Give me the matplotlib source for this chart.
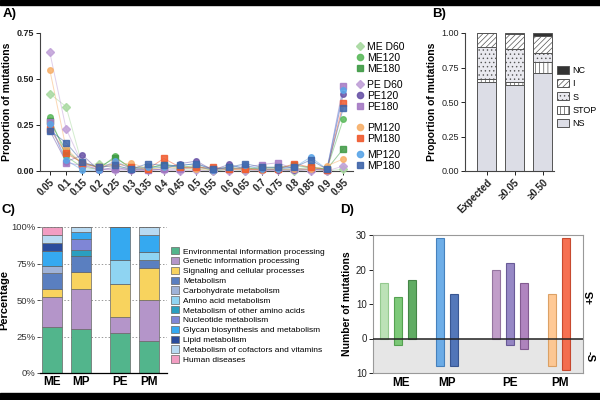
import matplotlib
matplotlib.use('Agg')
import matplotlib.pyplot as plt
from matplotlib.lines import Line2D
from matplotlib.patches import Patch, Rectangle

plt.rcParams['font.family'] = ['Liberation Sans', 'DejaVu Sans']
plt.rcParams['hatch.linewidth'] = 0.5

# -------------------------
# Panel A data
# -------------------------
freq_bins = [0.05, 0.1, 0.15, 0.2, 0.25, 0.3, 0.35, 0.4, 0.45, 0.5,
             0.55, 0.6, 0.65, 0.7, 0.75, 0.8, 0.85, 0.9, 0.95]
freq_labels = ['0.05', '0.1', '0.15', '0.2', '0.25', '0.3', '0.35', '0.4', '0.45', '0.5',
               '0.55', '0.6', '0.65', '0.7', '0.75', '0.8', '0.85', '0.9', '0.95']

me_d60 = [0.42, 0.35, 0.03, 0.04, 0.03, 0.01, 0.01, 0.02, 0.01, 0.01, 0.0, 0.01, 0.0, 0.01, 0.01, 0.0, 0.01, 0.0, 0.01]
me_120 = [0.295, 0.08, 0.02, 0.01, 0.08, 0.01, 0.01, 0.04, 0.02, 0.03, 0.0, 0.01, 0.02, 0.01, 0.01, 0.01, 0.02, 0.01, 0.28]
me_180 = [0.27, 0.11, 0.04, 0.02, 0.07, 0.02, 0.02, 0.03, 0.02, 0.02, 0.01, 0.02, 0.01, 0.02, 0.02, 0.03, 0.02, 0.01, 0.12]
pe_d60 = [0.645, 0.23, 0.035, 0.01, 0.005, 0.005, 0.005, 0.005, 0.0, 0.005, 0.0, 0.0, 0.0, 0.005, 0.005, 0.005, 0.0, 0.0, 0.027]
pe_120 = [0.22, 0.05, 0.087, 0.005, 0.02, 0.005, 0.005, 0.01, 0.04, 0.054, 0.005, 0.036, 0.01, 0.005, 0.005, 0.005, 0.01, 0.005, 0.418]
pe_180 = [0.265, 0.045, 0.03, 0.01, 0.01, 0.01, 0.005, 0.01, 0.01, 0.02, 0.01, 0.01, 0.02, 0.035, 0.045, 0.01, 0.01, 0.005, 0.462]
pm_120 = [0.55, 0.123, 0.04, 0.02, 0.03, 0.045, 0.01, 0.02, 0.02, 0.01, 0.01, 0.01, 0.01, 0.005, 0.01, 0.01, 0.01, 0.028, 0.065]
pm_180 = [0.23, 0.096, 0.045, 0.02, 0.042, 0.02, 0.01, 0.068, 0.02, 0.02, 0.02, 0.01, 0.01, 0.01, 0.01, 0.04, 0.02, 0.005, 0.368]
mp_120 = [0.255, 0.06, 0.005, 0.005, 0.056, 0.01, 0.02, 0.02, 0.03, 0.04, 0.005, 0.02, 0.03, 0.01, 0.01, 0.02, 0.075, 0.01, 0.44]
mp_180 = [0.22, 0.154, 0.05, 0.02, 0.03, 0.01, 0.04, 0.03, 0.03, 0.04, 0.01, 0.02, 0.04, 0.02, 0.02, 0.02, 0.06, 0.01, 0.342]

series_a = [
    ('ME D60', me_d60, '#a8d9a0', 'D'),
    ('ME120', me_120, '#5cba5c', 'o'),
    ('ME180', me_180, '#3f9a45', 's'),
    ('PE D60', pe_d60, '#c0a0d8', 'D'),
    ('PE120', pe_120, '#6b55a8', 'o'),
    ('PE180', pe_180, '#a57ac4', 's'),
    ('PM120', pm_120, '#f7b06a', 'o'),
    ('PM180', pm_180, '#f05a2e', 's'),
    ('MP120', mp_120, '#5aa5e8', 'o'),
    ('MP180', mp_180, '#3f65aa', 's'),
]

# -------------------------
# Panel B data
# -------------------------
b_groups = ['Expected', '≥0.05', '≥0.50']
b_ns = [0.645, 0.62, 0.71]
b_stop = [0.02, 0.023, 0.077]
b_s = [0.234, 0.243, 0.07]
b_i = [0.101, 0.104, 0.121]
b_nc = [0.0, 0.01, 0.022]

# -------------------------
# Panel C data
# -------------------------
c_groups = ['ME', 'MP', 'PE', 'PM']
c_pos = [0, 1, 2.35, 3.35]
c_cats = ['Environmental information processing', 'Genetic information processing',
          'Signaling and cellular processes', 'Metabolism', 'Carbohydrate metabolism',
          'Amino acid metabolism', 'Metabolism of other amino acids', 'Nucleotide metabolism',
          'Glycan biosynthesis and metabolism', 'Lipid metabolism',
          'Metabolism of cofactors and vitamins', 'Human diseases']
c_colors = ['#52b58c', '#b495c9', '#f8d35e', '#5a7fc0', '#9fb3d8', '#8fd4f2',
            '#2a9fc0', '#7f86d6', '#35a9f0', '#2a4c9c', '#b8daf2', '#f29dc2']
c_vals = {
    'ME': [31.4, 20.9, 5.0, 10.9, 5.0, 0, 0, 0, 10.4, 5.7, 5.5, 5.2],
    'MP': [30.2, 27.1, 11.6, 11.3, 0, 0, 4.3, 7.5, 4.4, 0, 3.6, 0],
    'PE': [27.3, 11.3, 22.1, 0, 0, 17.0, 0, 0, 22.3, 0, 0, 0],
    'PM': [21.6, 28.4, 21.6, 5.7, 0, 5.7, 0, 0, 11.3, 0, 5.7, 0],
}

# -------------------------
# Panel D data
# -------------------------
d_groups = ['ME', 'MP', 'PE', 'PM']
d_group_pos = [2.2, 5.5, 10.0, 13.6]
d_pos = [1, 2, 3, 5, 6, 9, 10, 11, 13, 14]
d_plus = [16, 12, 17, 29, 13, 20, 22, 16, 13, 29]
d_minus = [0, 2, 0, 8, 8, 0, 2, 3, 8, 9]
d_face = ['#b5dfb0', '#6fc46a', '#4fa352', '#5ea5e6', '#4169b3',
          '#bb93c4', '#8b7bbf', '#a878b8', '#ffc48a', '#f5603e']
d_edge = ['#8cc587', '#4a9a46', '#3a7d3c', '#3a78b8', '#2d4c8a',
          '#8c6a98', '#5f508f', '#7a5088', '#d99a5a', '#c23e22']

W, H = 600, 400


def box(l, t, r, b):
    return [l / W, 1 - b / H, (r - l) / W, (b - t) / H]


fig = plt.figure(figsize=(6, 4), dpi=100)
fig.patches.append(Rectangle((0, 1 - 5 / H), 1, 5 / H, transform=fig.transFigure, color='black'))
fig.patches.append(Rectangle((0, 0), 1, 7 / H, transform=fig.transFigure, color='black'))

# ------------------------------
# A
# ------------------------------
axA = fig.add_axes(box(40, 33, 353, 171))
for name, vals, col, mk in series_a:
    axA.plot(freq_bins, vals, color=col, lw=0.7, alpha=0.5, clip_on=False, zorder=2)
    axA.plot(freq_bins, vals, ls='none', marker=mk, ms=4 if mk != 'D' else 3.6,
             color=col, alpha=0.85, clip_on=False, zorder=3)
axA.set_xlim(0.02, 0.98)
axA.set_ylim(0, 0.75)
axA.set_yticks([0, 0.25, 0.5, 0.75])
axA.set_yticklabels(['0.00', '0.25', '0.50', '0.75'], fontsize=6.5, fontweight='bold')
axA.set_xticks(freq_bins)
axA.set_xticklabels(freq_labels, rotation=45, ha='right', rotation_mode='anchor',
                    fontsize=7, fontweight='bold')
axA.set_ylabel('Proportion of mutations', fontsize=7.5, fontweight='bold', labelpad=3)
for sp in ['top', 'right']:
    axA.spines[sp].set_visible(False)
for sp in ['left', 'bottom']:
    axA.spines[sp].set_linewidth(0.8)
    axA.spines[sp].set_color('#444')
axA.tick_params(length=3, width=0.7, pad=1.5, colors='#222')

group_tops = [41.8, 79.8, 122.8, 149.8]
group_idx = [[0, 1, 2], [3, 4, 5], [6, 7], [8, 9]]
for top, idx in zip(group_tops, group_idx):
    handles = [Line2D([], [], ls='none', marker=series_a[i][3], color=series_a[i][2],
                      alpha=0.9, ms=4.5 if series_a[i][3] != 'D' else 4) for i in idx]
    labels = [series_a[i][0] for i in idx]
    fig.legend(handles, labels, loc='upper left', bbox_to_anchor=(356 / W, 1 - top / H),
               frameon=False, fontsize=7.5, labelspacing=0.1, handlelength=0.8,
               handletextpad=0.3, borderpad=0, borderaxespad=0)

# ------------------------------
# B
# ------------------------------
axB = fig.add_axes(box(465, 33, 554, 171))
xb = [0, 1, 2]
bw = 0.68
bottom = [0, 0, 0]
b_layers = [('NS', b_ns, '#dcdde6', ''), ('STOP', b_stop, 'white', '||||'),
            ('S', b_s, '#e9e9ef', '....'), ('I', b_i, 'white', '//////'),
            ('NC', b_nc, '#333333', '')]
b_handles = []
for name, vals, fc, hatch in b_layers:
    axB.bar(xb, vals, bw, bottom=bottom, color=fc, edgecolor='#555', lw=0.7, hatch=hatch)
    bottom = [a + b for a, b in zip(bottom, vals)]
    b_handles.append(Patch(facecolor=fc, edgecolor='#555', lw=0.7, hatch=hatch, label=name))
axB.set_xlim(-0.77, 2.4)
axB.set_ylim(0, 1.0)
axB.set_yticks([0, 0.25, 0.5, 0.75, 1.0])
axB.set_yticklabels(['0.00', '0.25', '0.50', '0.75', '1.00'], fontsize=6.5)
axB.set_xticks(xb)
axB.set_xticklabels(b_groups, rotation=45, ha='right', rotation_mode='anchor',
                    fontsize=7, fontweight='bold')
axB.set_ylabel('Proportion of mutations', fontsize=7.5, fontweight='bold', labelpad=3)
for sp in ['top', 'right']:
    axB.spines[sp].set_visible(False)
for sp in ['left', 'bottom']:
    axB.spines[sp].set_linewidth(0.8)
    axB.spines[sp].set_color('#444')
axB.tick_params(length=3, width=0.7, pad=1.5, colors='#222')
fig.legend(b_handles[::-1], [h.get_label() for h in b_handles[::-1]], loc='upper left',
           bbox_to_anchor=(557 / W, 1 - 66 / H), frameon=False, fontsize=6.5,
           labelspacing=0.45, handlelength=1.3, handleheight=1.0, handletextpad=0.4,
           borderpad=0, borderaxespad=0)

# ------------------------------
# C
# ------------------------------
axC = fig.add_axes(box(40, 227, 167, 373))
cb = [0, 0, 0, 0]
for k, cat in enumerate(c_cats):
    vals = [c_vals[g][k] for g in c_groups]
    axC.bar(c_pos, vals, 0.7, bottom=cb, color=c_colors[k], edgecolor='#666',
            lw=0.5, label=cat, zorder=2)
    cb = [a + b for a, b in zip(cb, vals)]
axC.set_xlim(-0.41, 3.97)
axC.set_ylim(0, 100)
axC.set_yticks([0, 25, 50, 75, 100])
axC.set_yticklabels(['0%', '25%', '50%', '75%', '100%'], fontsize=6.8)
axC.set_xticks(c_pos)
axC.set_xticklabels(c_groups, fontsize=8.5, fontweight='bold')
axC.set_ylabel('Percentage', fontsize=8, fontweight='bold', labelpad=2)
for yv in [25, 50, 75, 100]:
    axC.axhline(yv, color='#999', lw=0.7, ls=(0, (1.5, 2)), zorder=1)
for sp in ['top', 'right', 'left']:
    axC.spines[sp].set_visible(False)
axC.spines['bottom'].set_linewidth(0.9)
axC.tick_params(axis='y', length=2, width=0.6, pad=1, colors='#333')
axC.tick_params(axis='x', length=0, pad=2)
axC.legend(loc='upper left', bbox_to_anchor=(171 / W, 1 - 247 / H),
           bbox_transform=fig.transFigure, frameon=False, fontsize=6,
           labelspacing=0.15, handlelength=1.0, handleheight=1.0, handletextpad=0.5,
           borderpad=0, borderaxespad=0)

# ------------------------------
# D
# ------------------------------
axD = fig.add_axes(box(373, 235, 583, 373))
axD.axhspan(-10, 0, color='#e6e6e6', zorder=0)
heights = [p + m for p, m in zip(d_plus, d_minus)]
bottoms = [-m for m in d_minus]
axD.bar(d_pos, heights, 0.6, bottom=bottoms, color=d_face, edgecolor=d_edge, lw=0.8,
        alpha=0.9, zorder=2)
axD.axhline(0, color='#222', lw=1.1, zorder=3)
axD.set_xlim(0.21, 15.21)
axD.set_ylim(-10, 30)
axD.set_yticks([-10, 0, 10, 20, 30])
axD.set_yticklabels(['10', '0', '10', '20', '30'], fontsize=7)
axD.set_xticks(d_group_pos)
axD.set_xticklabels(d_groups, fontsize=8.5, fontweight='bold')
axD.set_ylabel('Number of mutations', fontsize=7.5, fontweight='bold', labelpad=3)
for sp in axD.spines.values():
    sp.set_color('#999')
    sp.set_linewidth(0.8)
axD.tick_params(axis='y', length=3, width=0.7, pad=1.5, colors='#222')
axD.tick_params(axis='x', length=0, pad=3)
fig.text(590 / W, 1 - 297 / H, '+S', rotation=90, fontsize=8, fontweight='bold',
         ha='center', va='center')
fig.text(590 / W, 1 - 357 / H, '-S', rotation=-90, fontsize=8, fontweight='bold',
         ha='center', va='center')

# panel letters
fig.text(3 / W, 1 - 14 / H, 'A)', fontsize=9.5, fontweight='bold', va='center')
fig.text(432 / W, 1 - 14 / H, 'B)', fontsize=9.5, fontweight='bold', va='center')
fig.text(2 / W, 1 - 210 / H, 'C)', fontsize=9.5, fontweight='bold', va='center')
fig.text(340 / W, 1 - 210 / H, 'D)', fontsize=9.5, fontweight='bold', va='center')

fig.savefig('out.png', dpi=100, facecolor='white')
